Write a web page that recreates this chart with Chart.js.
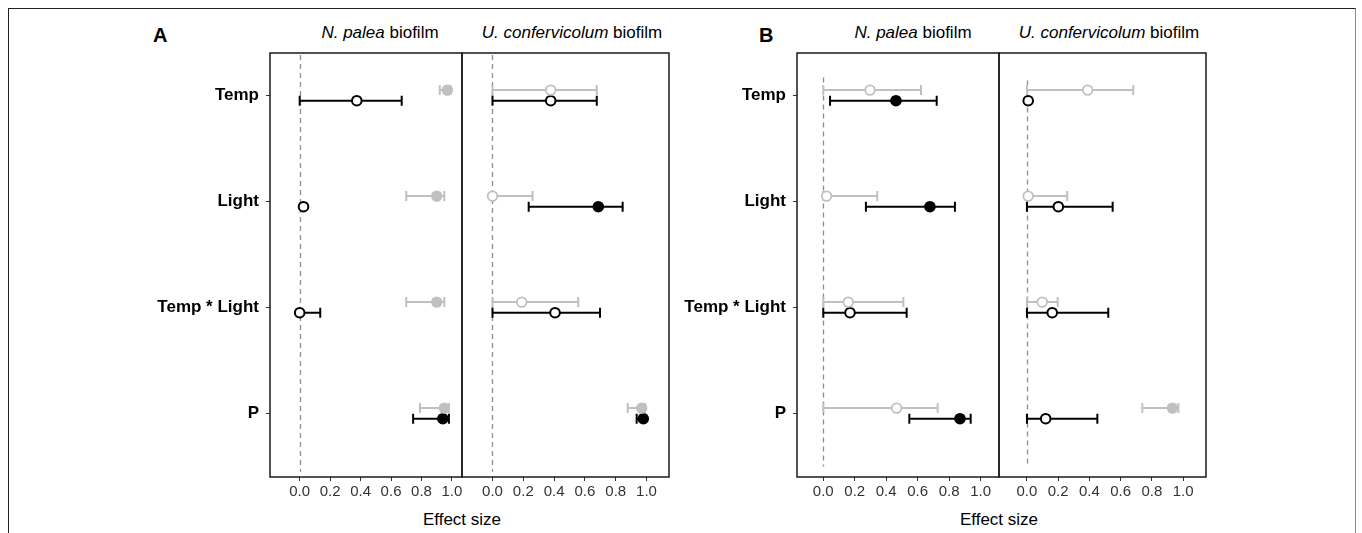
<!DOCTYPE html>
<html>
<head>
<meta charset="utf-8">
<script src="https://cdn.jsdelivr.net/npm/chart.js@4/dist/chart.umd.min.js"></script>
<style>
  html, body { margin: 0; padding: 0; background: #fff; overflow: hidden; }
  body { width: 1362px; height: 533px; position: relative; font-family: 'Liberation Sans', Arial, sans-serif; }
  canvas { position: absolute; }
  .frame { position: absolute; left: 8px; top: 8px; width: 1346px; height: 560px;
           border-top: 1.5px solid #222; border-left: 1.5px solid #222; border-right: 1.5px solid #888; }
  .txt { position: absolute; white-space: nowrap; color: #000; }
  .panel { font-weight: bold; font-size: 20px; line-height: 24px; top: 23px; }
  .title { font-size: 17px; line-height: 20px; top: 23px; transform: translateX(-50%); }
  .xlab { font-size: 17px; line-height: 20px; top: 510px; transform: translateX(-50%); }
</style>
</head>
<body>
<div class="frame"></div>

<div class="txt panel" style="left:153px">A</div>
<div class="txt panel" style="left:759px">B</div>

<div class="txt title" style="left:380px"><i>N. palea</i> biofilm</div>
<div class="txt title" style="left:572px"><i>U. confervicolum</i> biofilm</div>
<div class="txt title" style="left:913px"><i>N. palea</i> biofilm</div>
<div class="txt title" style="left:1109px"><i>U. confervicolum</i> biofilm</div>

<div class="txt xlab" style="left:462px">Effect size</div>
<div class="txt xlab" style="left:999px">Effect size</div>

<canvas id="a1" width="368" height="458" style="left:100px;top:51px"></canvas>
<canvas id="a2" width="215" height="458" style="left:460px;top:51px"></canvas>
<canvas id="b1" width="368" height="458" style="left:637px;top:51px"></canvas>
<canvas id="b2" width="215" height="458" style="left:997px;top:51px"></canvas>

<script>
const categories = ['Temp', 'Light', 'Temp * Light', 'P'];
const xTicks = [0, 0.2, 0.4, 0.6, 0.8, 1.0];

// A - N. palea biofilm
const aPaleaGrey = [0.97, 0.90, 0.90, 0.95];
const aPaleaGreyLo = [0.92, 0.70, 0.70, 0.79];
const aPaleaGreyHi = [0.99, 0.95, 0.95, 0.98];
const aPaleaGreyFill = [true, true, true, true];
const aPaleaBlack = [0.375, 0.025, 0.0, 0.94];
const aPaleaBlackLo = [0.0, 0.025, 0.0, 0.745];
const aPaleaBlackHi = [0.67, 0.025, 0.135, 0.98];
const aPaleaBlackFill = [false, false, false, true];

// A - U. confervicolum biofilm
const aConfGrey = [0.378, 0.0, 0.19, 0.969];
const aConfGreyLo = [0.0, 0.0, 0.0, 0.878];
const aConfGreyHi = [0.677, 0.26, 0.557, 0.99];
const aConfGreyFill = [false, false, false, true];
const aConfBlack = [0.378, 0.687, 0.406, 0.979];
const aConfBlackLo = [0.0, 0.235, 0.0, 0.936];
const aConfBlackHi = [0.677, 0.845, 0.698, 0.99];
const aConfBlackFill = [false, true, false, true];

// B - N. palea biofilm
const bPaleaGrey = [0.297, 0.021, 0.159, 0.466];
const bPaleaGreyLo = [0.0, 0.0, 0.0, 0.0];
const bPaleaGreyHi = [0.621, 0.343, 0.509, 0.727];
const bPaleaGreyFill = [false, false, false, false];
const bPaleaBlack = [0.462, 0.678, 0.17, 0.869];
const bPaleaBlackLo = [0.043, 0.271, 0.0, 0.547];
const bPaleaBlackHi = [0.721, 0.837, 0.53, 0.937];
const bPaleaBlackFill = [true, true, false, true];

// B - U. confervicolum biofilm
const bConfGrey = [0.389, 0.008, 0.098, 0.932];
const bConfGreyLo = [0.0, 0.0, 0.0, 0.739];
const bConfGreyHi = [0.681, 0.258, 0.197, 0.97];
const bConfGreyFill = [false, false, false, true];
const bConfBlack = [0.008, 0.201, 0.162, 0.12];
const bConfBlackLo = [0.008, 0.0, 0.0, 0.0];
const bConfBlackHi = [0.008, 0.549, 0.521, 0.451];
const bConfBlackFill = [false, false, false, false];

const GREY = '#c0c0c0';
const BLACK = '#000000';
const FONT = "'Liberation Sans', Arial, sans-serif";

// error bars + dashed zero line under the points, box frame on top
const errorBars = {
  id: 'errorBars',
  beforeDatasetsDraw(chart) {
    const { ctx, scales: { x, y } } = chart;
    const opts = chart.options.plugins.errorBars;
    ctx.save();
    ctx.strokeStyle = '#8c8c8c';
    ctx.lineWidth = 1.3;
    ctx.setLineDash([5, 4]);
    const x0 = Math.round(x.getPixelForValue(0)) + 0.5;
    ctx.beginPath();
    ctx.moveTo(x0, y.getPixelForValue(opts.zeroFrom));
    ctx.lineTo(x0, y.getPixelForValue(opts.zeroTo));
    ctx.stroke();
    ctx.setLineDash([]);

    chart.data.datasets.forEach(ds => {
      ctx.strokeStyle = ds.borderColor;
      ctx.lineWidth = 2;
      ds.data.forEach((p, i) => {
        if (ds.hi[i] - ds.lo[i] < 0.005) return;
        const yp = y.getPixelForValue(p.y);
        const xl = x.getPixelForValue(ds.lo[i]);
        const xh = x.getPixelForValue(ds.hi[i]);
        ctx.beginPath();
        ctx.moveTo(xl, yp); ctx.lineTo(xh, yp);
        ctx.moveTo(xl, yp - 5); ctx.lineTo(xl, yp + 5);
        ctx.moveTo(xh, yp - 5); ctx.lineTo(xh, yp + 5);
        ctx.stroke();
      });
    });
    ctx.restore();
  },
  afterDraw(chart) {
    const { ctx, chartArea: a } = chart;
    ctx.save();
    ctx.strokeStyle = '#1a1a1a';
    ctx.lineWidth = 1.5;
    ctx.strokeRect(a.left, a.top, a.right - a.left, a.bottom - a.top);
    ctx.restore();
  }
};

function series(est, lo, hi, fill, color, dy, borderWidth) {
  return {
    data: est.map((v, i) => ({ x: v, y: i + dy })),
    lo: lo,
    hi: hi,
    borderColor: color,
    backgroundColor: fill.map(f => f ? color : '#ffffff'),
    pointRadius: 4.8,
    pointBorderWidth: borderWidth,
    pointHoverRadius: 4.8
  };
}

// keep the box exactly where the layout wants it: no label overhang padding
function noPad(s) {
  s.paddingTop = 0;
  s.paddingBottom = 0;
  s.paddingLeft = 0;
  s.paddingRight = 0;
}

function makePanel(id, p) {
  new Chart(document.getElementById(id), {
    type: 'scatter',
    data: {
      datasets: [
        series(p.grey, p.greyLo, p.greyHi, p.greyFill, GREY, -0.05, 1.8),
        series(p.black, p.blackLo, p.blackHi, p.blackFill, BLACK, 0.05, 2)
      ]
    },
    options: {
      responsive: false,
      animation: false,
      events: [],
      layout: {
        autoPadding: false,
        padding: { top: 2, right: 6, left: p.showY ? 0 : 2, bottom: 0 }
      },
      plugins: {
        legend: { display: false },
        tooltip: { enabled: false },
        errorBars: { zeroFrom: p.zeroFrom, zeroTo: p.zeroTo }
      },
      scales: {
        x: {
          type: 'linear',
          min: p.xMin,
          max: p.xMax,
          afterBuildTicks: s => { s.ticks = xTicks.map(v => ({ value: v })); },
          afterFit: s => { s.height = 32; noPad(s); },
          border: { display: false },
          grid: { drawOnChartArea: false, tickLength: 4, tickColor: '#333', color: '#333' },
          ticks: {
            padding: 2,
            color: '#333',
            font: { family: FONT, size: 15 },
            callback: v => v.toFixed(1)
          }
        },
        y: {
          type: 'linear',
          reverse: true,
          min: -0.4,
          max: 3.6,
          display: p.showY,
          afterBuildTicks: s => { s.ticks = categories.map((c, i) => ({ value: i })); },
          afterFit: s => { s.width = p.yWidth || 0; noPad(s); },
          border: { display: false },
          grid: { drawOnChartArea: false, tickLength: 4, tickColor: '#333', color: '#333' },
          ticks: {
            padding: 7,
            color: '#000',
            font: { family: FONT, size: 17, weight: 'bold' },
            callback: v => categories[v]
          }
        }
      }
    },
    plugins: [errorBars]
  });
}

window.addEventListener('load', () => {
  makePanel('a1', {
    grey: aPaleaGrey, greyLo: aPaleaGreyLo, greyHi: aPaleaGreyHi, greyFill: aPaleaGreyFill,
    black: aPaleaBlack, blackLo: aPaleaBlackLo, blackHi: aPaleaBlackHi, blackFill: aPaleaBlackFill,
    xMin: -0.195, xMax: 1.066, showY: true, yWidth: 170, zeroFrom: -0.38, zeroTo: 3.55
  });
  makePanel('a2', {
    grey: aConfGrey, greyLo: aConfGreyLo, greyHi: aConfGreyHi, greyFill: aConfGreyFill,
    black: aConfBlack, blackLo: aConfBlackLo, blackHi: aConfBlackHi, blackFill: aConfBlackFill,
    xMin: -0.198, xMax: 1.146, showY: false, zeroFrom: -0.38, zeroTo: 3.55
  });
  makePanel('b1', {
    grey: bPaleaGrey, greyLo: bPaleaGreyLo, greyHi: bPaleaGreyHi, greyFill: bPaleaGreyFill,
    black: bPaleaBlack, blackLo: bPaleaBlackLo, blackHi: bPaleaBlackHi, blackFill: bPaleaBlackFill,
    xMin: -0.167, xMax: 1.117, showY: true, yWidth: 160, zeroFrom: -0.17, zeroTo: 3.5
  });
  makePanel('b2', {
    grey: bConfGrey, greyLo: bConfGreyLo, greyHi: bConfGreyHi, greyFill: bConfGreyFill,
    black: bConfBlack, blackLo: bConfBlackLo, blackHi: bConfBlackHi, blackFill: bConfBlackFill,
    xMin: -0.179, xMax: 1.147, showY: false, zeroFrom: -0.14, zeroTo: 3.5
  });
});
</script>
</body>
</html>
